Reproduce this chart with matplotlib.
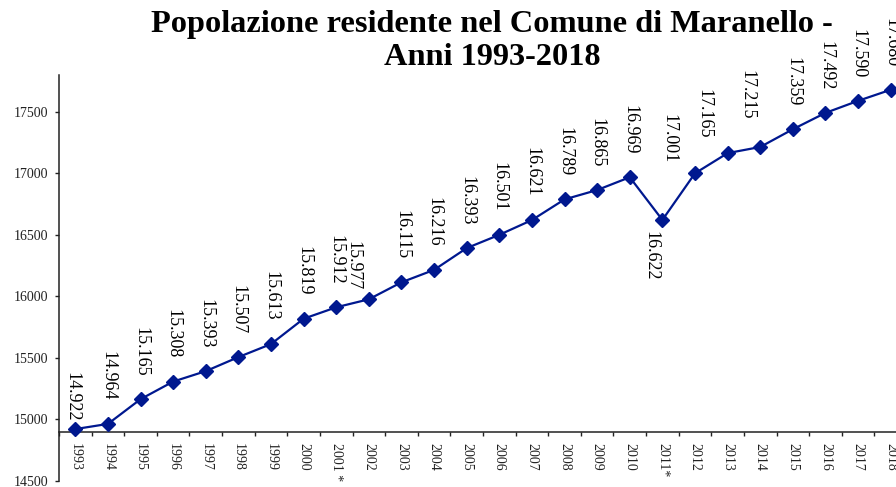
import matplotlib.pyplot as plt
import numpy as np

# Data
years = ['1993', '1994', '1995', '1996', '1997', '1998', '1999', '2000',
         '2001 *', '2002', '2003', '2004', '2005', '2006', '2007', '2008',
         '2009', '2010', '2011*', '2012', '2013', '2014', '2015', '2016',
         '2017', '2018']
population = [14922, 14964, 15165, 15308, 15393, 15507, 15613, 15819,
              15912, 15977, 16115, 16216, 16393, 16501, 16621, 16789,
              16865, 16969, 16622, 17001, 17165, 17215, 17359, 17492,
              17590, 17680]
y_ticks = [14500, 15000, 15500, 16000, 16500, 17000, 17500]

# Label placement tweaks (pixels): dx, gap from point; negative gap = below
label_offsets = {0: (-3, 8), 9: (-16, 9), 18: (-11, -11), 19: (-26, 10),
                 20: (-24, 15), 21: (-13, 27)}

plt.rcParams['font.family'] = ['Liberation Serif', 'DejaVu Serif']

fig = plt.figure(figsize=(8.96, 4.87), dpi=100)
ax = fig.add_axes([59 / 896, 6 / 487, 848 / 896, 406 / 487])

x = np.arange(len(years))
line_color = '#00188f'
ax.plot(x, population, color=line_color, linewidth=1.6, marker='D',
        markersize=7, markerfacecolor=line_color, markeredgecolor=line_color,
        clip_on=False, zorder=3)

# Data labels, Italian thousands separator
for i, v in enumerate(population):
    label = f'{v:,}'.replace(',', '.')
    dx, gap = label_offsets.get(i, (0, 23))
    va = 'bottom' if gap > 0 else 'top'
    ax.annotate(label, (i, v), xytext=(dx, gap), textcoords='offset pixels',
                rotation=270, ha='center', va=va, fontsize=13, color='black',
                annotation_clip=False)

ax.set_xlim(-0.5, len(years) - 0.5)
ax.set_ylim(14500, 17800)
ax.set_yticks(y_ticks)
ax.set_yticklabels([str(t) for t in y_ticks])

# category labels at centers, tick marks at boundaries
ax.set_xticks(x)
ax.set_xticklabels(years, fontsize=10, va='top', ha='center')
ax.set_xticks(np.arange(-0.5, len(years), 1.0), minor=True)
ax.tick_params(axis='x', which='major', length=0, pad=8, colors='#222222',
               labelrotation=270)
ax.tick_params(axis='x', which='minor', length=3, width=1, color='#222222',
               direction='out')
ax.tick_params(axis='y', length=3, width=1, pad=5, labelsize=10,
               colors='#222222', direction='out')

ax.spines['top'].set_visible(False)
ax.spines['right'].set_visible(False)
ax.spines['bottom'].set_position(('data', 14900))
for s in ['left', 'bottom']:
    ax.spines[s].set_color('#222222')
    ax.spines[s].set_linewidth(1.1)

# Title
fig.text(492 / 896, 1 - 32 / 487, 'Popolazione residente nel Comune di Maranello -',
         ha='center', va='baseline', fontsize=23.3, fontweight='bold')
fig.text(492 / 896, 1 - 65 / 487, 'Anni 1993-2018',
         ha='center', va='baseline', fontsize=23.3, fontweight='bold')

plt.savefig('out.png', dpi=100, facecolor='white')
